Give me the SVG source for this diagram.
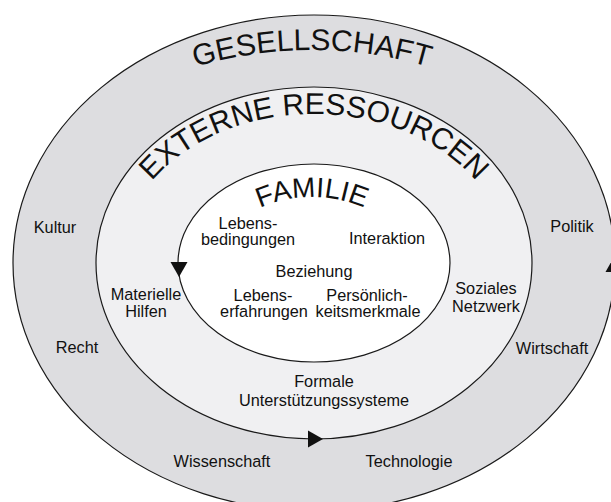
<svg xmlns="http://www.w3.org/2000/svg" xmlns:xlink="http://www.w3.org/1999/xlink" width="611" height="502" viewBox="0 0 611 502">
  <style>
    .ring { stroke: #1a1a1a; stroke-width: 1.2; }
    .outer { fill: #dddde0; }
    .middle { fill: #f0f0f2; }
    .inner { fill: #ffffff; }
    .title { font-family: "Liberation Sans", Arial, sans-serif; fill: #111; }
    .lbl { font-family: "Liberation Sans", Arial, sans-serif; font-size: 16.3px; fill: #111; text-anchor: middle; }
    .head { fill: #111; }
  </style>
  <defs>
    <!-- baselines for the arched titles -->
    <path id="arcOuter" d="M -100,462 A 412 412 0 0 1 724,462"/>
    <path id="arcMiddle" d="M 120,263 A 194 149 0 0 1 508,263"/>
    <path id="arcInner" d="M 182,327 A 130 130 0 0 1 442,327"/>
    <!-- arrowhead, tip at origin, pointing along +x -->
    <path id="arrowHead" d="M0,0 L-15,-8.5 L-15,8.5 Z"/>
  </defs>

  <rect width="611" height="502" fill="#ffffff"/>

  <g id="gesellschaft">
    <ellipse class="ring outer" cx="314" cy="263" rx="301" ry="248"/>
    <text class="title" font-size="30"><textPath xlink:href="#arcOuter" href="#arcOuter" startOffset="50%" text-anchor="middle">GESELLSCHAFT</textPath></text>
    <text class="lbl" x="55" y="233">Kultur</text>
    <text class="lbl" x="77" y="353">Recht</text>
    <text class="lbl" x="222" y="467">Wissenschaft</text>
    <text class="lbl" x="409" y="467">Technologie</text>
    <text class="lbl" x="552" y="354">Wirtschaft</text>
    <text class="lbl" x="572" y="232">Politik</text>
  </g>

  <g id="externe-ressourcen">
    <ellipse class="ring middle" cx="314" cy="263" rx="218" ry="176"/>
    <text class="title" font-size="30"><textPath xlink:href="#arcMiddle" href="#arcMiddle" startOffset="50%" text-anchor="middle">EXTERNE RESSOURCEN</textPath></text>
    <text class="lbl" x="146" y="300">Materielle</text>
    <text class="lbl" x="146" y="317">Hilfen</text>
    <text class="lbl" x="486" y="294">Soziales</text>
    <text class="lbl" x="486" y="312">Netzwerk</text>
    <text class="lbl" x="324" y="387">Formale</text>
    <text class="lbl" x="324" y="406">Unterstützungssysteme</text>
  </g>

  <g id="familie">
    <ellipse class="ring inner" cx="314" cy="263" rx="136" ry="99"/>
    <text class="title" font-size="28"><textPath xlink:href="#arcInner" href="#arcInner" startOffset="50%" text-anchor="middle">FAMILIE</textPath></text>
    <text class="lbl" x="248" y="229">Lebens-</text>
    <text class="lbl" x="248" y="245">bedingungen</text>
    <text class="lbl" x="387" y="244">Interaktion</text>
    <text class="lbl" x="314" y="277">Beziehung</text>
    <text class="lbl" x="263" y="301">Lebens-</text>
    <text class="lbl" x="264" y="317">erfahrungen</text>
    <text class="lbl" x="367" y="301">Persönlich-</text>
    <text class="lbl" x="368" y="317">keitsmerkmale</text>
  </g>

  <g id="connectors">
    <use class="head" href="#arrowHead" xlink:href="#arrowHead" transform="translate(179,277) rotate(90)"/>
    <use class="head" href="#arrowHead" xlink:href="#arrowHead" transform="translate(323,439)"/>
    <use class="head" href="#arrowHead" xlink:href="#arrowHead" transform="translate(614,257) rotate(-90)"/>
  </g>
</svg>
